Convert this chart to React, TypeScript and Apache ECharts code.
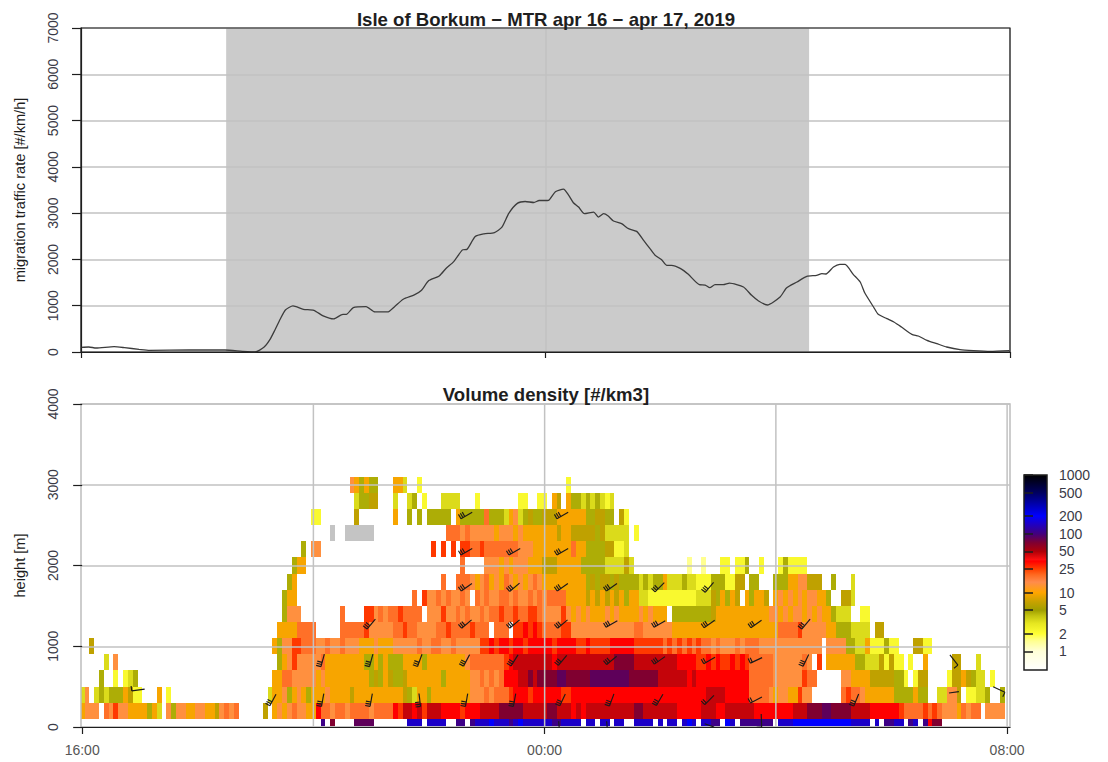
import React, { useEffect, useRef } from "react";
import * as echarts from "echarts";

// ---------- migration traffic rate (hours after 16:00, #/km/h) ----------
const mtrHours = [0,0.135,0.26,0.57,0.75,1.0,1.18,1.86,2.48,2.78,3.0,3.15,3.25,3.34,3.43,3.52,3.65,3.83,4.01,4.17,4.35,4.51,4.57,4.69,4.91,5.06,5.28,5.40,5.55,5.74,5.86,5.99,6.17,6.29,6.42,6.57,6.65,6.79,6.94,7.12,7.25,7.37,7.52,7.65,7.80,7.89,8.0,8.05,8.17,8.31,8.40,8.48,8.57,8.67,8.83,8.91,9.0,9.08,9.17,9.31,9.43,9.57,9.69,9.80,9.89,10.0,10.09,10.17,10.32,10.46,10.65,10.75,10.83,10.92,11.06,11.17,11.41,11.55,11.67,11.82,12.04,12.15,12.33,12.50,12.67,12.76,12.83,12.96,13.07,13.16,13.30,13.42,13.50,13.65,13.73,13.88,14.0,14.13,14.31,14.42,14.57,14.74,14.91,15.14,15.37,15.66,15.99];
const mtrValues = [100,108,86,115,94,58,36,43,43,15,0,100,260,476,707,908,995,923,900,780,714,815,815,960,980,865,865,980,1140,1233,1327,1543,1644,1810,1954,2206,2220,2495,2552,2581,2697,3000,3216,3252,3230,3273,3273,3276,3463,3520,3384,3225,3132,2988,3024,2916,2988,2938,2830,2772,2664,2606,2412,2232,2088,1994,1872,1872,1807,1678,1454,1447,1390,1454,1454,1490,1404,1224,1102,1015,1188,1382,1512,1634,1656,1692,1685,1836,1894,1894,1678,1512,1274,972,814,720,648,540,382,346,252,180,108,50,29,14,29];
const darkPeriod = [2.5, 12.54];

// ---------- volume density: code table (#/km3) ----------
const densityByCode: Record<string, number> = { a:1.5,b:2.2,c:3.3,d:4.6,e:6.5,f:9.5,g:14,h:19,i:26,j:34,k:46,l:70,p:85,m:105,n:150,o:200,x:-1 };

// height bands [low, high] in metres
const heightBands = [[0,100],[100,300],[300,500],[500,700],[700,900],[900,1100],[1100,1300],[1300,1500],[1500,1700],[1700,1900],[1900,2100],[2100,2300],[2300,2500],[2500,2700],[2700,2900],[2900,3100]];

// per band: [first 5-minute column, density codes]
type Run = [number, string];
const band0: Run[] = [[50,"m"],[52,"l"],[57,"pppp"],[68,"nnn"],[72,"nnnn"],[78,"mm"],[81,"mnnnonnnmnonnnn"],[96,"nnmmnnnn"],[105,"nn"],[108,"nn"],[111,"nn"],[115,"nnnn"],[120,"n"],[122,"nn"],[125,"non"],[129,"nnmm"],[134,"on"],[137,"mmmmmmm"],[145,"nnnoooooooooooonnnn"],[165,"n"],[167,"mmnn"],[172,"mn"],[175,"m"],[176,"j"],[177,"ll"]];
const band1: Run[] = [[0,"fg"],[2,"gg"],[5,"hgi"],[8,"ggffffdfc"],[18,"gd"],[20,"ggffggffeghgh"],[38,"e"],[40,"fgfgh"],[45,"ggff"],[49,"j"],[50,"hhghhgh"],[57,"hhh"],[60,"ghhhh"],[65,"ji"],[67,"kkj"],[70,"ki"],[72,"kkk"],[75,"jjjji"],[80,"jjj"],[83,"kkkkl"],[88,"lll"],[91,"lkkkk"],[96,"kllkkk"],[102,"jkj"],[105,"kkkk"],[109,"kkkkkk"],[115,"llkk"],[119,"kkkkk"],[124,"jjjjj"],[129,"kkk"],[132,"jj"],[134,"kkkk"],[138,"kkjj"],[142,"jj"],[144,"jjjj"],[148,"kkk"],[151,"lll"],[154,"pp"],[156,"llll"],[160,"kkkk"],[164,"jjjjjj"],[170,"i"],[171,"hhhh"],[175,"ihih"],[179,"ggg"],[182,"f"],[183,"hghh"],[188,"gggg"]];
const band2: Run[] = [[0,"cg"],[3,"cdc"],[6,"ddd"],[9,"fe"],[11,"bb"],[16,"f"],[18,"b"],[39,"c"],[40,"ff"],[42,"gd"],[44,"f"],[45,"gf"],[47,"d"],[48,"f"],[49,"ffgffffeffffffffff"],[67,"edcff"],[72,"d"],[73,"fffffff"],[80,"fg"],[82,"gghgh"],[87,"hh"],[89,"ijjjijj"],[96,"jjjj"],[100,"ii"],[102,"jjjjjjjjjjjjjjjjjjjjjjjjjjjj"],[130,"kkkk"],[134,"jjjjj"],[139,"hhhh"],[143,"gfggff"],[149,"i"],[150,"gg"],[158,"hihh"],[162,"g"],[163,"ffffff"],[169,"dd"],[171,"dd"],[173,"f"],[174,"dd"],[178,"cc"],[180,"gge"],[184,"bbc"],[187,"c"],[188,"d"],[191,"d"]];
const band3: Run[] = [[4,"d"],[7,"b"],[9,"bc"],[11,"d"],[40,"ff"],[42,"hh"],[44,"g"],[45,"gg"],[47,"ggfg"],[51,"fffffffff"],[60,"dedfedde"],[68,"fffffff"],[75,"d"],[76,"fffff"],[81,"gghghgh"],[88,"jjj"],[91,"kklkl"],[96,"lll"],[99,"pp"],[101,"lllll"],[106,"pppppppp"],[114,"llllll"],[120,"kkkk"],[124,"kkjk"],[128,"jjjjjjjjjjj"],[139,"hhhhh"],[144,"gggggg"],[150,"i"],[151,"hh"],[158,"gg"],[160,"ffff"],[164,"e"],[165,"eeee"],[169,"d"],[170,"db"],[173,"b"],[174,"ee"],[180,"b"],[181,"ee"],[183,"f"],[184,"ede"],[186,"cc"],[189,"b"]];
const band4: Run[] = [[5,"c"],[7,"g"],[41,"d"],[42,"f"],[43,"g"],[44,"i"],[45,"gggg"],[49,"gh"],[51,"ffffffff"],[59,"dd"],[61,"fd"],[63,"fd"],[65,"dd"],[67,"ff"],[69,"ffd"],[72,"ffffffff"],[80,"gh"],[82,"hhhhhh"],[88,"ij"],[90,"kkkkkk"],[96,"kkjkkk"],[102,"kkkkkkkk"],[110,"kllllk"],[116,"kkkkkkkk"],[124,"jjjj"],[128,"iijijiijiji"],[139,"hhhhh"],[144,"gggggg"],[150,"h"],[151,"g"],[153,"i"],[155,"fffff"],[160,"f"],[161,"dd"],[163,"ccc"],[166,"e"],[167,"b"],[168,"e"],[169,"bb"],[172,"b"],[175,"f"],[181,"ee"],[186,"c"]];
const band5: Run[] = [[2,"e"],[40,"fd"],[42,"gg"],[44,"ii"],[46,"hhh"],[49,"gg"],[51,"hgghgg"],[57,"gfffgfffgg"],[67,"ggghgghhgghggggg"],[83,"iijijjijjijjj"],[96,"jjijjjjiijiiiijjjjjiiii"],[119,"iihihihihi"],[129,"hhghggghg"],[138,"h"],[139,"hh"],[141,"ggggggggggggg"],[155,"gggg"],[159,"ddcc"],[163,"f"],[164,"bbb"],[167,"d"],[168,"bb"],[173,"ee"],[175,"b"],[176,"b"]];
const band6: Run[] = [[41,"ffff"],[45,"h"],[46,"hhh"],[54,"hhhhh"],[59,"iggg"],[63,"gg"],[65,"hhihh"],[70,"ggg"],[73,"g"],[74,"hhihhhhihhh"],[86,"hhh"],[90,"iijiji"],[96,"hhhhii"],[102,"ggggggggggggg"],[115,"hh"],[117,"gggggg"],[123,"ffffffffffffffff"],[139,"ffffff"],[145,"hhhh"],[149,"i"],[150,"ggggg"],[155,"ff"],[157,"ddd"],[160,"ccc"],[163,"c"],[165,"ee"]];
const band7: Run[] = [[42,"d"],[43,"ggg"],[54,"h"],[59,"ii"],[61,"ghgh"],[65,"h"],[66,"i"],[67,"hhhh"],[72,"ggg"],[75,"i"],[76,"gghghgghg"],[85,"hhihhihhiih"],[96,"gggg"],[100,"i"],[101,"gfgfgfffgfgffffgfgfff"],[123,"dddddddd"],[131,"e"],[132,"fffffffffff"],[143,"ggfgfggfgfg"],[154,"ffd"],[157,"ccc"],[162,"b"],[163,"b"]];
const band8: Run[] = [[42,"d"],[43,"ff"],[69,"h"],[71,"i"],[72,"gghghgghg"],[82,"hghgghhghgghgh"],[96,"gh"],[98,"hhh"],[101,"ffff"],[105,"efefefef"],[113,"d"],[114,"ff"],[116,"cc"],[118,"bbbbbbbbbb"],[128,"ccc"],[131,"e"],[132,"dfdfe"],[138,"f"],[139,"d"],[140,"ff"],[142,"e"],[144,"fgfgfgfggff"],[155,"d"],[158,"ee"],[160,"c"]];
const band9: Run[] = [[43,"df"],[75,"h"],[78,"hhh"],[81,"gfghfgfhgfgfghg"],[96,"fffffffff"],[105,"dedeededd"],[114,"d"],[115,"dcdcdd"],[121,"f"],[122,"ccc"],[125,"d"],[126,"cc"],[128,"bbb"],[131,"ddd"],[134,"bb"],[136,"ee"],[139,"dd"],[144,"ddd"],[147,"ff"],[149,"gg"],[151,"eee"],[156,"d"],[160,"c"]];
const band10: Run[] = [[44,"dff"],[79,"h"],[84,"gggfgfgggfff"],[96,"eee"],[99,"fffff"],[104,"ddddd"],[109,"cccc"],[113,"e"],[114,"c"],[126,"a"],[129,"a"],[133,"bb"],[136,"bb"],[138,"d"],[141,"b"],[145,"b"],[146,"d"],[147,"bbbb"]];
const band11: Run[] = [[46,"d"],[48,"gg"],[73,"i"],[75,"i"],[77,"i"],[79,"iihhihhhhhhhgggff"],[96,"ffffff"],[102,"h"],[103,"ff"],[105,"dddd"],[109,"ee"],[111,"bb"],[113,"c"]];
const band12: Run[] = [[52,"x"],[55,"xxxxxx"],[76,"hhhghgggggfgggfgffff"],[96,"fffeff"],[102,"eeeee"],[107,"d"],[108,"e"],[109,"ccccc"],[115,"b"]];
const band13: Run[] = [[48,"bb"],[57,"e"],[65,"f"],[68,"d"],[70,"d"],[72,"ddddd"],[78,"f"],[79,"ddddd"],[84,"h"],[85,"ddd"],[88,"c"],[89,"fg"],[91,"c"],[92,"dedd"],[96,"eee"],[99,"ffffff"],[105,"dd"],[107,"ee"],[109,"dd"],[112,"e"],[113,"b"]];
const band14: Run[] = [[57,"c"],[58,"dd"],[60,"ee"],[65,"c"],[68,"cd"],[71,"b"],[75,"cccc"],[82,"b"],[91,"bb"],[95,"b"],[96,"b"],[98,"fe"],[101,"f"],[102,"ddcdcdc"],[109,"bc"]];
const band15: Run[] = [[56,"gf"],[58,"d"],[59,"f"],[60,"dd"],[65,"ff"],[67,"c"],[70,"b"],[101,"b"]];
const densityBands = [band0,band1,band2,band3,band4,band5,band6,band7,band8,band9,band10,band11,band12,band13,band14,band15];

// wind barbs: [hour after 16:00, height m, staff direction deg, feathers]
const windBarbs = [
  [0.97,458,8,1],[3.3,335,62,3],[4.16,335,80,3],[5.0,335,80,3],[5.84,335,97,3],[6.65,335,80,3],[7.48,335,80,3],[8.31,335,65,3],[9.16,335,70,3],[9.99,335,60,3],[10.85,335,45,2],[11.66,335,28,2],[13.39,335,68,3],
  [4.16,825,75,3],[5.0,825,75,3],[5.84,825,70,3],[6.65,825,62,3],[7.48,825,58,3],[8.31,825,50,3],[9.16,825,40,3],[9.99,825,35,3],[10.85,825,30,2],[11.66,825,25,2],[12.52,825,65,3],
  [5.0,1275,50,3],[6.65,1275,40,3],[7.48,1275,40,3],[8.31,1275,40,3],[9.16,1275,30,3],[9.99,1275,30,3],[10.85,1275,35,3],[11.66,1275,35,3],[12.52,1275,50,3],
  [6.65,1730,35,3],[7.48,1730,40,3],[8.31,1730,35,3],[9.16,1730,35,3],[9.99,1730,45,3],[10.85,1730,50,3],
  [6.65,2170,30,3],[7.48,2170,30,3],[8.31,2170,30,3],
  [6.65,2620,30,3],[8.31,2620,30,3],
  [11.75,80,92,1],[8.25,10,95,0],[9.08,10,95,0],[10.85,20,160,0],
];
const endBarbs = [[15.08,830,128,1],[15.08,430,8,0],[15.86,465,155,1]];

// ---------- colour scale ----------
const legendTicks = [1,2,5,10,25,50,100,200,500,1000];
const scaleValues = [0.48,1,1.5,2,3,4,5,7,10,15,20,25,34,34.5,36,50,70,100,200,500,1000];
const scaleColors = ["#ffffff","#ffffd8","#ffff90","#ffff33","#e6e620","#c4c410","#a09f00","#c8a200","#ffa500","#ff8c4c","#ff6a20","#ff4000","#ff0000","#ff0000","#ff1010","#b00008","#800030","#42007e","#0000ff","#000060","#000000"];
const naColor = "#c4c4c4";

function heatColor(v: number): string {
  if (v < 0) return naColor;
  let i = 1;
  while (i < scaleValues.length - 1 && scaleValues[i] < v) i++;
  const t = (Math.log10(v) - Math.log10(scaleValues[i - 1])) / (Math.log10(scaleValues[i]) - Math.log10(scaleValues[i - 1]));
  const c = (s: string, k: number) => parseInt(s.substr(k, 2), 16);
  const a = scaleColors[i - 1], b = scaleColors[i];
  const m = (k: number) => Math.round(c(a, k) + (c(b, k) - c(a, k)) * t);
  return `rgb(${m(1)},${m(3)},${m(5)})`;
}

const FONT = "Liberation Sans";
const INK = "#1e1e1e";
const RULE = "#c2c2c2";

function buildCells() {
  const out: number[][] = [];
  densityBands.forEach((runs, b) => {
    runs.forEach(([start, codes]) => {
      for (let i = 0; i < codes.length; i++) {
        const col = start + i;
        out.push([(col - 0.5) / 12, (col + 0.5) / 12, heightBands[b][0], heightBands[b][1], densityByCode[codes[i]]]);
      }
    });
  });
  return out;
}

function barbItem(params: any, api: any) {
  const c = api.coord([api.value(0), api.value(1)]);
  const a = (api.value(2) * Math.PI) / 180;
  const n = api.value(3);
  const L = n === 0 ? 10 : 13;
  const ux = Math.cos(a), uy = -Math.sin(a);
  const nx = Math.cos(a + Math.PI / 2), ny = -Math.sin(a + Math.PI / 2);
  const tailX = c[0] - (ux * L) / 2, tailY = c[1] - (uy * L) / 2;
  const style = { stroke: "#1a1a1a", lineWidth: 1.15, fill: "none" };
  const children: any[] = [{ type: "line", shape: { x1: tailX, y1: tailY, x2: c[0] + (ux * L) / 2, y2: c[1] + (uy * L) / 2 }, style }];
  for (let i = 0; i < n; i++) {
    const bx = tailX + ux * i * 2.2, by = tailY + uy * i * 2.2;
    children.push({ type: "line", shape: { x1: bx, y1: by, x2: bx + nx * 5, y2: by + ny * 5 }, style });
  }
  return { type: "group", children };
}

export default function App() {
  const ref = useRef<HTMLDivElement>(null);
  useEffect(() => {
    const chart = echarts.init(ref.current!, undefined, { renderer: "svg" });
    const axisText = { color: "#3a3a46", fontFamily: FONT, fontSize: 14 };
    const ink = { lineStyle: { color: INK, width: 1.2 } };
    const logMin = Math.log10(0.48);
    const gradient = scaleValues.map((v, i) => ({
      offset: (Math.log10(v) - logMin) / (3 - logMin),
      color: scaleColors[i],
    }));
    const plain = (v: number) => String(v);
    chart.setOption({
      animation: false,
      backgroundColor: "#ffffff",
      textStyle: { fontFamily: FONT },
      title: [
        { text: "Isle of Borkum \u2212 MTR apr 16 \u2212 apr 17, 2019", left: 545, top: 5, textAlign: "center", textStyle: { fontFamily: FONT, fontSize: 18.6, fontWeight: "bold", color: INK } },
        { text: "Volume density [#/km3]", left: 545, top: 380, textAlign: "center", textStyle: { fontFamily: FONT, fontSize: 18.6, fontWeight: "bold", color: INK } },
      ].map((t) => ({ ...t, left: 541 })),
      grid: [
        { left: 81, width: 929, top: 28, height: 324, show: true, borderColor: INK, borderWidth: 1.2, backgroundColor: "transparent", z: 8 },
        { left: 81, width: 929, top: 404, height: 323, show: true, borderColor: "#bdbdbd", borderWidth: 1.5, backgroundColor: "transparent", z: 2 },
        { left: 1024, width: 23, top: 475, height: 195, show: true, borderColor: INK, borderWidth: 1.5, backgroundColor: "transparent", z: 8 },
      ],
      xAxis: [
        { type: "value", gridIndex: 0, min: 0, max: 16, interval: 4, z: 3,
          axisLine: { show: true, onZero: false, ...ink },
          axisTick: { show: true, customValues: [0, 8, 16], length: 6, ...ink },
          axisLabel: { show: false },
          splitLine: { show: true, lineStyle: { color: RULE, width: 1.5 } } },
        { type: "value", gridIndex: 1, min: -0.02, max: 16.05, z: 9,
          axisLine: { show: true, onZero: false, ...ink },
          axisTick: { show: true, customValues: [0, 8, 16], length: 7, ...ink },
          axisLabel: { show: true, customValues: [0, 8, 16], margin: 16, ...axisText, color: "#555", formatter: (v: number) => (v === 0 ? "16:00" : v === 8 ? "00:00" : "08:00") },
          splitLine: { show: false } },
        { type: "value", gridIndex: 2, min: 0, max: 1, show: false },
      ],
      yAxis: [
        { type: "value", gridIndex: 0, min: 0, max: 7000, interval: 1000, z: 3,
          name: "migration traffic rate [#/km/h]", nameLocation: "middle", nameGap: 54,
          nameTextStyle: { color: INK, fontFamily: FONT, fontSize: 14.6 },
          axisLine: { show: true, ...ink },
          axisTick: { show: true, length: 9, ...ink },
          axisLabel: { ...axisText, rotate: 90, margin: 28, align: "center", verticalAlign: "middle", formatter: plain },
          splitLine: { show: true, lineStyle: { color: RULE, width: 1.5 } } },
        { type: "value", gridIndex: 1, min: 0, max: 4000, interval: 1000, z: 3,
          name: "height [m]", nameLocation: "middle", nameGap: 54,
          nameTextStyle: { color: INK, fontFamily: FONT, fontSize: 14.6 },
          axisLine: { show: false },
          axisTick: { show: true, length: 9, ...ink },
          axisLabel: { ...axisText, rotate: 90, margin: 28, align: "center", verticalAlign: "middle", formatter: plain },
          splitLine: { show: true, lineStyle: { color: RULE, width: 1.5 } } },
        { type: "value", gridIndex: 2, position: "right", min: logMin, max: 3, z: 9,
          axisLine: { show: false },
          axisTick: { show: true, customValues: legendTicks.map((v) => Math.log10(v)), length: 9, lineStyle: { color: INK, width: 1.5 } },
          axisLabel: { show: true, customValues: legendTicks.map((v) => Math.log10(v)), margin: 12, ...axisText, formatter: (v: number) => String(Math.round(Math.pow(10, v))) },
          splitLine: { show: false } },
      ],
      series: [
        { type: "custom", name: "night", xAxisIndex: 0, yAxisIndex: 0, z: 1, clip: true,
          data: [[darkPeriod[0], darkPeriod[1]]], encode: { x: [0, 1] }, silent: true,
          renderItem: (_p: any, api: any) => {
            const a = api.coord([api.value(0), 7000]);
            const b = api.coord([api.value(1), 0]);
            return { type: "rect", shape: { x: a[0], y: a[1], width: b[0] - a[0], height: b[1] - a[1] }, style: { fill: "#cbcbcb" } };
          } },
        { type: "line", name: "MTR", xAxisIndex: 0, yAxisIndex: 0, z: 6, symbol: "none", smooth: 0.2,
          lineStyle: { color: "#3c3c3c", width: 1.3 },
          data: mtrHours.map((h, i) => [h, mtrValues[i]]) },
        { type: "custom", name: "density", xAxisIndex: 1, yAxisIndex: 1, z: 1, clip: true, silent: true,
          data: buildCells(), encode: { x: [0, 1], y: [2, 3] },
          renderItem: (_p: any, api: any) => {
            const a = api.coord([api.value(0), api.value(3)]);
            const b = api.coord([api.value(1), api.value(2)]);
            const x0 = Math.round(a[0]), y0 = Math.round(a[1]), x1 = Math.round(b[0]), y1 = Math.round(b[1]);
            return { type: "rect", shape: { x: x0, y: y0, width: x1 - x0, height: y1 - y0 }, style: { fill: heatColor(api.value(4)) } };
          } },
        { type: "custom", name: "rules", xAxisIndex: 1, yAxisIndex: 1, z: 4, silent: true,
          data: [[4], [8], [12], [16]], encode: { x: 0 },
          renderItem: (_p: any, api: any) => {
            const a = api.coord([api.value(0), 0]);
            const b = api.coord([api.value(0), 4000]);
            return { type: "line", shape: { x1: a[0], y1: a[1], x2: b[0], y2: b[1] }, style: { stroke: RULE, lineWidth: 1.5 } };
          } },
        { type: "custom", name: "wind", xAxisIndex: 1, yAxisIndex: 1, z: 7, clip: true, silent: true,
          data: windBarbs.concat(endBarbs), encode: { x: 0, y: 1 }, renderItem: barbItem },
        { type: "custom", name: "legend", xAxisIndex: 2, yAxisIndex: 2, z: 1, silent: true,
          data: [[0, 1]], encode: { x: [0, 1] },
          renderItem: (_p: any, api: any) => {
            const a = api.coord([0, 3]);
            const b = api.coord([1, logMin]);
            return { type: "rect", shape: { x: a[0], y: a[1], width: b[0] - a[0], height: b[1] - a[1] },
              style: { fill: new echarts.graphic.LinearGradient(0, 1, 0, 0, gradient) } };
          } },
      ],
    });
    return () => chart.dispose();
  }, []);
  return <div ref={ref} style={{ position: "absolute", left: 0, top: 0, width: 1108, height: 762 }} />;
}
